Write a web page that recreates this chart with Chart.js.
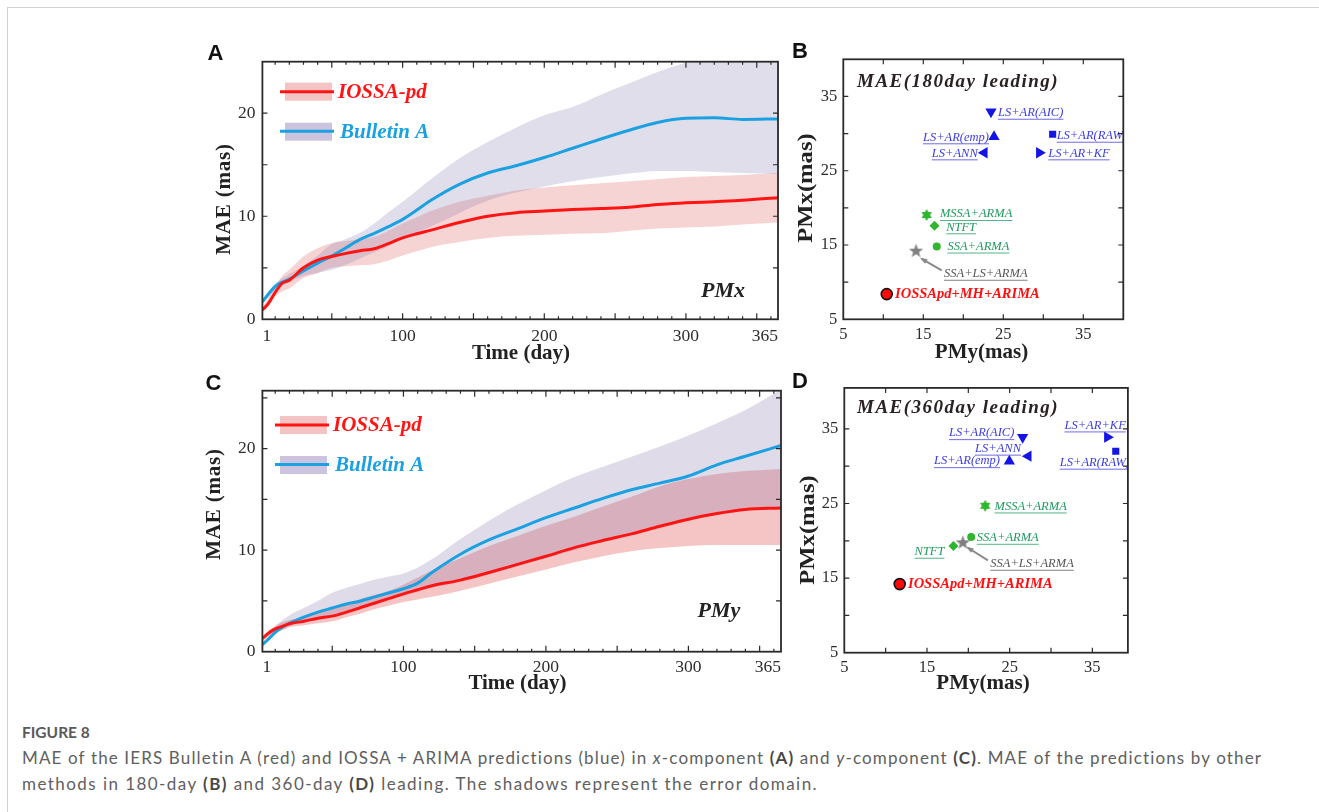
<!DOCTYPE html>
<html>
<head>
<meta charset="utf-8">
<script src="https://cdn.jsdelivr.net/npm/chart.js@4.4.1/dist/chart.umd.min.js"></script>
<style>
  html, body { margin: 0; padding: 0; background: #fff; }
  body { width: 1319px; height: 812px; position: relative; overflow: hidden; }
  #sheet { position: absolute; left: 7px; top: 7px; right: -2px; bottom: -2px;
           border-top: 1px solid #d2d2d2; border-left: 1px solid #d2d2d2; }
  canvas { position: absolute; display: block; }
  #caption { position: absolute; left: 22px; top: 719px; font-family: Lato, "Open Sans", sans-serif;
             color: #606060; font-size: 17px; line-height: 26px; white-space: nowrap; }
  #caption .fig { font-weight: 700; color: #5a5a5a; font-size: 15.5px; }
  #caption b { font-weight: 700; color: #484848; }
</style>
</head>
<body>
<div id="sheet"></div>
<canvas id="cA" width="610" height="335" style="left:190px;top:35px;width:610px;height:335px"></canvas>
<canvas id="cB" width="345" height="335" style="left:790px;top:35px;width:345px;height:335px"></canvas>
<canvas id="cC" width="610" height="328" style="left:190px;top:372px;width:610px;height:328px"></canvas>
<canvas id="cD" width="345" height="328" style="left:790px;top:372px;width:345px;height:328px"></canvas>
<div id="caption">
  <div class="fig">FIGURE 8</div>
  <div class="cl" id="cl1">MAE of the IERS Bulletin A (red) and IOSSA + ARIMA predictions (blue) in <i>x</i>-component <b>(A)</b> and <i>y</i>-component <b>(C)</b>. MAE of the predictions by other</div>
  <div class="cl" id="cl2">methods in 180-day <b>(B)</b> and 360-day <b>(D)</b> leading. The shadows represent the error domain.</div>
</div>
<script>
// ---------- data: MAE versus prediction span (days) ----------
const days = [1, 5, 10, 15, 20, 30, 40, 50, 60, 70, 80, 90, 100, 110, 120, 140, 160, 180, 200, 220, 240, 260, 280, 300, 320, 340, 365];

// PMx (panel A)
const pmxIossa      = [0.9, 1.5, 2.6, 3.5, 3.8, 5.0, 5.75, 6.1, 6.4, 6.65, 6.85, 7.35, 7.9, 8.3, 8.65, 9.4, 10.0, 10.35, 10.5, 10.65, 10.75, 10.87, 11.15, 11.3, 11.42, 11.55, 11.8];
const pmxIossaLow   = [0.8, 1.2, 2.2, 2.7, 3.0, 4.0, 4.5, 5.0, 5.15, 5.25, 5.35, 5.7, 6.2, 6.6, 7.0, 7.5, 7.9, 8.1, 8.2, 8.3, 8.35, 8.6, 8.8, 8.9, 9.0, 9.2, 9.4];
const pmxIossaHigh  = [1.2, 2.0, 3.2, 4.2, 4.8, 6.1, 6.9, 7.4, 7.6, 7.8, 8.0, 8.6, 9.3, 9.9, 10.5, 11.4, 12.0, 12.5, 12.8, 13.0, 13.2, 13.4, 13.6, 13.8, 13.9, 14.0, 14.2];
const pmxBulletin     = [1.7, 2.4, 3.2, 3.6, 3.9, 4.7, 5.45, 6.15, 6.95, 7.75, 8.35, 9.0, 9.7, 10.6, 11.55, 13.1, 14.2, 14.9, 15.7, 16.6, 17.5, 18.35, 19.1, 19.5, 19.55, 19.4, 19.45];
const pmxBulletinLow  = [1.5, 2.1, 2.8, 3.2, 3.6, 4.2, 4.5, 4.8, 5.3, 5.9, 6.5, 7.1, 7.8, 8.4, 9.0, 10.3, 11.5, 12.3, 12.9, 13.4, 13.8, 14.15, 14.4, 14.4, 14.3, 14.2, 14.1];
const pmxBulletinHigh = [1.9, 2.6, 3.4, 4.0, 4.4, 5.2, 6.2, 7.3, 7.8, 8.4, 9.3, 10.4, 11.4, 12.5, 13.6, 15.6, 17.2, 18.6, 19.8, 20.6, 21.8, 22.9, 24.0, 24.9, 25.5, 25.6, 25.6];

// PMy (panel C)
const pmyIossa      = [1.3, 1.8, 2.25, 2.5, 2.75, 3.0, 3.3, 3.5, 3.9, 4.35, 4.8, 5.25, 5.7, 6.1, 6.5, 7.05, 7.8, 8.6, 9.4, 10.25, 10.95, 11.6, 12.35, 13.05, 13.6, 14.0, 14.15];
const pmyIossaLow   = [1.1, 1.5, 1.9, 2.1, 2.4, 2.6, 2.8, 3.0, 3.4, 3.75, 4.2, 4.55, 4.9, 5.15, 5.4, 6.0, 6.7, 7.4, 8.1, 8.8, 9.4, 9.9, 10.2, 10.4, 10.5, 10.5, 10.5];
const pmyIossaHigh  = [1.4, 2.0, 2.5, 2.9, 3.1, 3.4, 3.8, 4.2, 4.7, 5.2, 5.6, 6.0, 6.6, 7.3, 8.0, 9.2, 10.4, 11.4, 12.4, 13.3, 14.3, 15.25, 16.3, 17.0, 17.5, 17.8, 18.0];
const pmyBulletin     = [0.7, 1.2, 1.9, 2.4, 2.8, 3.4, 3.9, 4.3, 4.7, 5.0, 5.4, 5.8, 6.2, 6.75, 7.8, 9.6, 11.0, 12.1, 13.2, 14.15, 15.1, 15.95, 16.6, 17.3, 18.4, 19.25, 20.3];
const pmyBulletinLow  = [0.5, 1.0, 1.7, 2.2, 2.5, 2.9, 3.2, 3.5, 3.9, 4.3, 4.7, 5.1, 5.5, 5.9, 6.3, 6.9, 7.6, 8.4, 9.2, 10.0, 10.8, 11.5, 12.2, 12.9, 13.5, 13.9, 14.1];
const pmyBulletinHigh = [1.0, 1.7, 2.5, 3.1, 3.6, 4.3, 5.0, 5.8, 6.3, 6.7, 7.1, 7.4, 7.7, 8.3, 9.1, 11.1, 12.9, 14.5, 15.9, 17.2, 18.2, 19.2, 20.2, 21.3, 22.5, 23.8, 25.8];

const dayTickValues = [1, 100, 200, 300, 365];
const dayTickLabels = ['1', '100', '200', '300', '365'];
const maeTickValues = [0, 10, 20];

// ---------- data: MAE of other methods (PMy on x, PMx on y) ----------
const methods = ['LS+AR(AIC)', 'LS+AR(emp)', 'LS+ANN', 'LS+AR(RAW)', 'LS+AR+KF',
                 'MSSA+ARMA', 'NTFT', 'SSA+ARMA', 'SSA+LS+ARMA', 'IOSSApd+MH+ARIMA'];
const pmy180 = [23.46, 23.84, 22.63, 31.17, 29.5, 15.42, 16.4, 16.68, 14.09, 10.43];
const pmx180 = [32.94, 29.58, 27.42, 29.9, 27.42, 19.04, 17.6, 14.8, 14.17, 8.39];
const pmy360 = [26.57, 24.96, 27.25, 37.83, 36.82, 22.04, 18.2, 20.35, 19.34, 11.7];
const pmx360 = [33.9, 30.68, 31.34, 32.0, 33.9, 24.7, 19.3, 20.5, 19.74, 14.2];
const masTickValues = [5, 15, 25, 35];

// ---------- styles ----------
const RED = '#ff1414', BLUE_LINE = '#1ba1e2';
const SERIF = '"Liberation Serif", "Times New Roman", serif';
const SANS = '"Liberation Sans", Arial, sans-serif';

function starCanvas(n, rOut, rIn, color) {
  const s = Math.ceil(rOut * 2 + 2);
  const c = document.createElement('canvas');
  c.width = c.height = s;
  const g = c.getContext('2d');
  g.fillStyle = color;
  g.beginPath();
  for (let i = 0; i < 2 * n; i++) {
    const r = i % 2 ? rIn : rOut;
    const ang = -Math.PI / 2 + i * Math.PI / n;
    g.lineTo(s / 2 + r * Math.cos(ang), s / 2 + r * Math.sin(ang));
  }
  g.closePath();
  g.fill();
  return c;
}

const MB = '#1414e6', LB = '#3b3be2', MG = '#2fb52f', LG = '#1e9a5e', MGr = '#808080', LGr = '#555555';
const markerStyles = [
  { style: 'triangle', rot: 180, r: 6.5, color: MB, label: LB },
  { style: 'triangle', rot: 0,   r: 6.5, color: MB, label: LB },
  { style: 'triangle', rot: 270, r: 6.5, color: MB, label: LB },
  { style: 'rect',     rot: 0,   r: 5,   color: MB, label: LB },
  { style: 'triangle', rot: 90,  r: 6.5, color: MB, label: LB },
  { style: starCanvas(6, 6, 3.4, MG), rot: 0, r: 6, color: MG, label: LG },
  { style: 'rectRot',  rot: 0,   r: 5,   color: MG, label: LG },
  { style: 'circle',   rot: 0,   r: 4,   color: MG, label: LG },
  { style: starCanvas(5, 7.5, 3.1, MGr), rot: 0, r: 7, color: MGr, label: LGr },
  { style: 'circle',   rot: 0,   r: 5.5, color: '#ff0a0a', label: '#ff1010', border: '#111' }
];

// label offsets (px) from each marker, per panel: [dx, dy, align]
const labelPlaceB = [[7, 1, 'left'], [-5, 0.6, 'right'], [-6.6, 0.6, 'right'], [4, 1.4, 'left'], [9, 0.6, 'left'],
                     [13.3, -1, 'left'], [11.7, 1.6, 'left'], [10.7, 0, 'left'], [28, 22.6, 'left'], [8.3, 0, 'left']];
const labelPlaceD = [[-8.3, -4, 'right'], [-9.3, 0, 'right'], [-7.3, -7.6, 'right'], [-56, 11.4, 'left'], [18.4, -11.7, 'right'],
                     [9.3, 0.7, 'left'], [-9, 5.7, 'right'], [5.6, 0.7, 'left'], [27.4, 21, 'left'], [8.3, 0, 'left']];
const arrowB = [25.7, 19.3, 5.7, 7.6];
const arrowD = [25, 17.6, 5, 5];

// ---------- drawing helpers ----------
function drawText(ctx, t, ox, oy) {
  ctx.save();
  ctx.translate(t.x - ox, t.y - oy);
  if (t.rot) ctx.rotate(t.rot);
  if (t.sx || t.sy) ctx.scale(t.sx || 1, t.sy || 1);
  ctx.font = t.font;
  ctx.fillStyle = t.color;
  ctx.textAlign = t.align || 'center';
  ctx.textBaseline = t.base || 'middle';
  if ('letterSpacing' in ctx) ctx.letterSpacing = t.ls || '0px';
  ctx.fillText(t.s, 0, 0);
  ctx.restore();
}

function makeDecor(cfg) {
  return {
    id: 'decor' + cfg.id,
    afterDatasetsDraw(chart) {
      if (!cfg.labels) return;
      const ctx = chart.ctx, a = chart.chartArea;
      const xs = chart.scales.x, ys = chart.scales.y;
      ctx.save();
      ctx.beginPath();
      ctx.rect(a.left, a.top, a.right - a.left, a.bottom - a.top);
      ctx.clip();
      cfg.labels.xs.forEach((xv, i) => {
        const px = xs.getPixelForValue(xv), py = ys.getPixelForValue(cfg.labels.ys[i]);
        const [dx, dy, align] = cfg.labels.place[i];
        const st = markerStyles[i];
        const main = i === methods.length - 1;
        ctx.font = main ? 'italic bold 14.5px ' + SERIF : 'italic 12.5px ' + SERIF;
        ctx.fillStyle = st.label;
        ctx.textAlign = align;
        ctx.textBaseline = 'middle';
        const tx = px + dx, ty = py + dy;
        ctx.fillText(methods[i], tx, ty);
        if (!main) {
          const w = ctx.measureText(methods[i]).width;
          const x0 = align === 'right' ? tx - w : tx;
          ctx.strokeStyle = st.label;
          ctx.globalAlpha = 0.75;
          ctx.lineWidth = 1;
          ctx.beginPath();
          ctx.moveTo(x0, ty + 6.5);
          ctx.lineTo(x0 + w, ty + 6.5);
          ctx.stroke();
          ctx.globalAlpha = 1;
        }
        if (i === 8) {
          const ar = cfg.labels.arrow;
          const x1 = px + ar[0], y1 = py + ar[1], x2 = px + ar[2], y2 = py + ar[3];
          ctx.strokeStyle = '#8a8a8a';
          ctx.fillStyle = '#8a8a8a';
          ctx.lineWidth = 2;
          ctx.beginPath();
          ctx.moveTo(x1, y1);
          ctx.lineTo(x2, y2);
          ctx.stroke();
          const ang = Math.atan2(y2 - y1, x2 - x1);
          ctx.beginPath();
          ctx.moveTo(x2 + 2 * Math.cos(ang), y2 + 2 * Math.sin(ang));
          ctx.lineTo(x2 - 6 * Math.cos(ang - 0.45), y2 - 6 * Math.sin(ang - 0.45));
          ctx.lineTo(x2 - 6 * Math.cos(ang + 0.45), y2 - 6 * Math.sin(ang + 0.45));
          ctx.closePath();
          ctx.fill();
        }
      });
      ctx.restore();
    },
    afterDraw(chart) {
      const ctx = chart.ctx, a = chart.chartArea;
      const [ox, oy] = cfg.origin;
      const xs = chart.scales.x, ys = chart.scales.y;
      ctx.save();
      // inward tick marks on all four sides
      ctx.strokeStyle = '#2a2a2a';
      ctx.lineWidth = 1.2;
      ctx.beginPath();
      cfg.xTicks.forEach(([v, len]) => {
        const p = xs.getPixelForValue(v);
        ctx.moveTo(p, a.bottom); ctx.lineTo(p, a.bottom - len);
        ctx.moveTo(p, a.top); ctx.lineTo(p, a.top + len);
      });
      cfg.yTicks.forEach(([v, len]) => {
        const p = ys.getPixelForValue(v);
        ctx.moveTo(a.left, p); ctx.lineTo(a.left + len, p);
        ctx.moveTo(a.right, p); ctx.lineTo(a.right - len, p);
      });
      ctx.stroke();
      // box frame
      ctx.lineWidth = 1.8;
      ctx.strokeRect(a.left, a.top, a.right - a.left, a.bottom - a.top);
      // legend
      (cfg.legend || []).forEach(l => {
        ctx.fillStyle = l.swatch;
        ctx.fillRect(l.box[0] - ox, l.box[1] - oy, l.box[2], l.box[3]);
        ctx.strokeStyle = l.line;
        ctx.lineWidth = 3;
        ctx.beginPath();
        ctx.moveTo(l.seg[0] - ox, l.seg[2] - oy);
        ctx.lineTo(l.seg[1] - ox, l.seg[2] - oy);
        ctx.stroke();
        drawText(ctx, { s: l.text, x: l.tx, y: l.ty, font: 'italic bold 21px ' + SERIF, color: l.line, align: 'left' }, ox, oy);
      });
      (cfg.texts || []).forEach(t => drawText(ctx, t, ox, oy));
      ctx.restore();
    }
  };
}

function fixTicks(values) {
  return scale => { scale.ticks = values.map(v => ({ value: v })); };
}

const tickFont = { family: SERIF, size: 17.5 };
const scatterTickFont = { family: SERIF, size: 16.5 };

// ---------- line panels (A, C) ----------
function bandSet(lo, hi, color, idxLo) {
  return [
    { data: lo, borderWidth: 0, pointRadius: 0, fill: false, cubicInterpolationMode: 'monotone' },
    { data: hi, borderWidth: 0, pointRadius: 0, backgroundColor: color, fill: idxLo, cubicInterpolationMode: 'monotone' }
  ];
}

function lineChart(id, cfg) {
  const xy = arr => arr.map((v, i) => ({ x: days[i], y: v }));
  const datasets = [
    { data: xy(cfg.red), borderColor: RED, borderWidth: 3, pointRadius: 0, fill: false, cubicInterpolationMode: 'monotone' },
    { data: xy(cfg.blue), borderColor: BLUE_LINE, borderWidth: 3, pointRadius: 0, fill: false, cubicInterpolationMode: 'monotone' },
    ...bandSet(xy(cfg.blueLo), xy(cfg.blueHi), cfg.purpleFill, 2),
    ...bandSet(xy(cfg.redLo), xy(cfg.redHi), cfg.redFill, 4)
  ];
  return new Chart(document.getElementById(id), {
    type: 'line',
    data: { datasets },
    options: {
      responsive: false, animation: false, events: [],
      layout: { padding: cfg.padding },
      plugins: { legend: { display: false }, tooltip: { enabled: false } },
      scales: {
        x: {
          type: 'linear', min: 1, max: 365,
          grid: { display: false, drawTicks: false }, border: { display: false },
          ticks: { autoSkip: false, maxRotation: 0, padding: cfg.xpad, align: 'inner', color: '#2d2d2d', font: tickFont,
                   callback: (v, i) => dayTickLabels[i] },
          afterBuildTicks: fixTicks(dayTickValues),
          afterFit: s => { s.height = cfg.xh; }
        },
        y: {
          type: 'linear', min: 0, max: cfg.ymax,
          grid: { display: false, drawTicks: false }, border: { display: false },
          ticks: { padding: 7, color: '#2d2d2d', font: tickFont },
          afterBuildTicks: fixTicks(maeTickValues),
          afterFit: s => { s.width = cfg.yw; }
        }
      }
    },
    plugins: [makeDecor(cfg.decor)]
  });
}

const dayMinor = [], dayMajor = [];
for (let d = 10; d <= 360; d += 10) (d % 50 === 0 ? dayMajor : dayMinor).push(d);
const lineXTicks = dayMinor.map(v => [v, 3]).concat(dayMajor.map(v => [v, 6]));

function legendFor(ox, oy, dy) {
  // ox/oy: left/top of the red swatch; dy: vertical gap between entries
  return [
    { box: [ox, oy, 47, 18], seg: [ox - 5, ox + 49, oy + 9], swatch: 'rgba(225,90,90,0.36)', line: RED, text: 'IOSSA-pd', tx: ox + 53, ty: oy + 10 },
    { box: [ox, oy + dy, 47, 18], seg: [ox - 5, ox + 49, oy + dy + 8.5], swatch: 'rgba(120,100,170,0.38)', line: BLUE_LINE, text: 'Bulletin A', tx: ox + 55, ty: oy + dy + 9.5 }
  ];
}

const maeTitleFont = 'bold 21px ' + SERIF;

lineChart('cA', {
  red: pmxIossa, blue: pmxBulletin, redLo: pmxIossaLow, redHi: pmxIossaHigh,
  blueLo: pmxBulletinLow, blueHi: pmxBulletinHigh,
  redFill: 'rgba(225,90,90,0.26)', purpleFill: 'rgba(120,105,165,0.22)',
  ymax: 25, padding: { left: 0, top: 26.7, right: 22, bottom: 0 }, yw: 72.4, xh: 50.7, xpad: 7,
  decor: {
    id: 'A', origin: [190, 35],
    xTicks: lineXTicks, yTicks: [[5, 5], [10, 5], [15, 5], [20, 5]],
    legend: legendFor(285, 82.7, 40),
    texts: [
      { s: 'A', x: 207.5, y: 60, font: 'bold 22px ' + SANS, color: '#111', align: 'left', base: 'alphabetic' },
      { s: 'MAE (mas)', x: 225, y: 199, rot: -Math.PI / 2, font: maeTitleFont, color: '#222', ls: '0.8px' },
      { s: 'Time (day)', x: 521, y: 354, font: maeTitleFont, color: '#222' },
      { s: 'PMx', x: 701, y: 291, font: 'italic bold 22px ' + SERIF, color: '#222', align: 'left' }
    ]
  }
});

lineChart('cC', {
  red: pmyIossa, blue: pmyBulletin, redLo: pmyIossaLow, redHi: pmyIossaHigh,
  blueLo: pmyBulletinLow, blueHi: pmyBulletinHigh,
  redFill: 'rgba(225,80,80,0.33)', purpleFill: 'rgba(120,105,165,0.24)',
  ymax: 25.7, padding: { left: 0, top: 18.7, right: 19, bottom: 0 }, yw: 72.4, xh: 48.3, xpad: 5,
  decor: {
    id: 'C', origin: [190, 372],
    xTicks: lineXTicks, yTicks: [[5, 5], [10, 5], [15, 5], [20, 5], [25, 5]],
    legend: legendFor(280, 416, 40),
    texts: [
      { s: 'C', x: 205.5, y: 390, font: 'bold 22px ' + SANS, color: '#111', align: 'left', base: 'alphabetic' },
      { s: 'MAE (mas)', x: 214.5, y: 504, rot: -Math.PI / 2, font: maeTitleFont, color: '#222', ls: '0.8px' },
      { s: 'Time (day)', x: 517.5, y: 684, font: maeTitleFont, color: '#222' },
      { s: 'PMy', x: 697.5, y: 611, font: 'italic bold 22px ' + SERIF, color: '#222', align: 'left' }
    ]
  }
});

// ---------- scatter panels (B, D) ----------
function scatterChart(id, cfg) {
  const datasets = methods.map((m, i) => {
    const st = markerStyles[i];
    return {
      label: m,
      data: [{ x: cfg.xs[i], y: cfg.ys[i] }],
      pointStyle: st.style, rotation: st.rot, pointRadius: st.r,
      backgroundColor: st.color, borderColor: st.border || st.color, borderWidth: st.border ? 1.6 : 0
    };
  });
  const masTicks = [10, 15, 20, 25, 30, 35].map(v => [v, 5]);
  return new Chart(document.getElementById(id), {
    type: 'scatter',
    data: { datasets },
    options: {
      responsive: false, animation: false, events: [],
      layout: { padding: cfg.padding },
      plugins: { legend: { display: false }, tooltip: { enabled: false } },
      scales: {
        x: {
          type: 'linear', min: 5, max: cfg.xmax,
          grid: { display: false, drawTicks: false }, border: { display: false },
          ticks: { autoSkip: false, maxRotation: 0, padding: 5, color: '#2d2d2d', font: scatterTickFont },
          afterBuildTicks: fixTicks(masTickValues),
          afterFit: s => { s.height = cfg.xh; }
        },
        y: {
          type: 'linear', min: 5, max: cfg.ymax,
          grid: { display: false, drawTicks: false }, border: { display: false },
          ticks: { padding: 6, color: '#2d2d2d', font: scatterTickFont },
          afterBuildTicks: fixTicks(masTickValues),
          afterFit: s => { s.width = cfg.yw; }
        }
      }
    },
    plugins: [makeDecor({
      id: cfg.id, origin: cfg.origin, xTicks: masTicks, yTicks: masTicks,
      labels: { xs: cfg.xs, ys: cfg.ys, place: cfg.place, arrow: cfg.arrow },
      texts: cfg.texts
    })]
  });
}

const pmTitleFont = 'bold 21px ' + SERIF;
const leadFont = 'italic bold 19px ' + SERIF;

scatterChart('cB', {
  id: 'B', origin: [790, 35], xs: pmy180, ys: pmx180, place: labelPlaceB, arrow: arrowB,
  xmax: 40, ymax: 40, padding: { left: 0, top: 24.3, right: 11.7, bottom: 0 }, yw: 53.3, xh: 50.7,
  texts: [
    { s: 'B', x: 792, y: 58.3, font: 'bold 22px ' + SANS, color: '#111', align: 'left', base: 'alphabetic' },
    { s: 'MAE(180day leading)', x: 857, y: 82, font: leadFont, color: '#2a2222', align: 'left', ls: '1.5px' },
    { s: 'PMx(mas)', x: 806.5, y: 188, rot: -Math.PI / 2, sx: 1.12, font: 'bold 22px ' + SERIF, color: '#222' },
    { s: 'PMy(mas)', x: 981.5, y: 353, font: pmTitleFont, color: '#222' }
  ]
});

scatterChart('cD', {
  id: 'D', origin: [790, 372], xs: pmy360, ys: pmx360, place: labelPlaceD, arrow: arrowD,
  xmax: 39.3, ymax: 40.5, padding: { left: 0, top: 13, right: 5.7, bottom: 0 }, yw: 54.3, xh: 47.3,
  texts: [
    { s: 'D', x: 792, y: 388.3, font: 'bold 22px ' + SANS, color: '#111', align: 'left', base: 'alphabetic' },
    { s: 'MAE(360day leading)', x: 857, y: 408.5, font: leadFont, color: '#2a2222', align: 'left', ls: '1.5px' },
    { s: 'PMx(mas)', x: 808, y: 530, rot: -Math.PI / 2, sx: 1.12, font: 'bold 22px ' + SERIF, color: '#222' },
    { s: 'PMy(mas)', x: 983, y: 684, font: pmTitleFont, color: '#222' }
  ]
});

// ---------- caption: spread each line to its full text width ----------
(function fitCaption() {
  [['cl1', 1241], ['cl2', 796]].forEach(([id, target]) => {
    const el = document.getElementById(id);
    el.style.display = 'inline-block';
    const w = el.getBoundingClientRect().width;
    const ls = Math.max(-1, Math.min(1.5, (target - w) / el.textContent.length));
    el.style.letterSpacing = ls.toFixed(3) + 'px';
    el.style.display = 'block';
  });
})();
</script>
</body>
</html>
